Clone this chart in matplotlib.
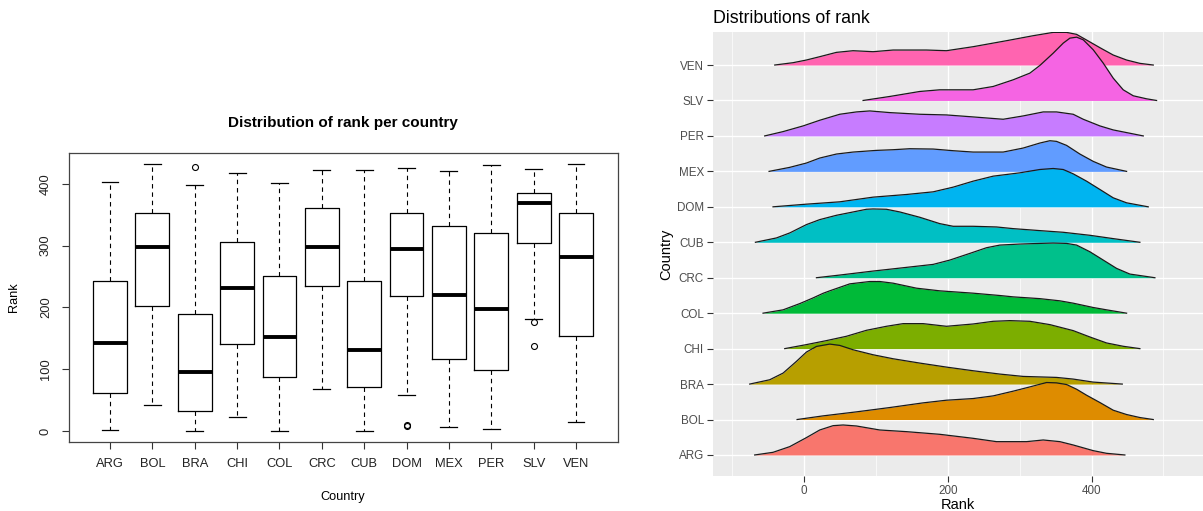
import numpy as np
import matplotlib
matplotlib.use("Agg")
import matplotlib.pyplot as plt

plt.rcParams['font.family'] = ['Liberation Sans', 'DejaVu Sans']

W, H = 1203, 511

countries = ['ARG', 'BOL', 'BRA', 'CHI', 'COL', 'CRC', 'CUB', 'DOM', 'MEX', 'PER', 'SLV', 'VEN']

# boxplot stats
whislo = [1, 42, 0, 23, 0, 68, 0, 59, 7, 4, 181, 15]
q1 = [61, 203, 32, 140, 87, 235, 72, 218, 117, 99, 304, 153]
med = [142, 298, 95, 231, 152, 297, 131, 294, 220, 197, 369, 282]
q3 = [243, 352, 189, 306, 250, 360, 243, 352, 331, 320, 385, 352]
whishi = [403, 432, 398, 418, 401, 422, 422, 425, 421, 430, 424, 432]
outliers = [[], [], [427], [], [], [], [], [8, 10], [], [], [177, 137], []]

# ridge outlines (rank, height in rows)
ridge_x = {
    'ARG': [-68.7, -43.2, -20, 3.2, 21.8, 40.4, 54.3, 72.8, 105.3, 142.4, 188.8, 235.2, 267.7, 309.5, 332.7, 355.9, 374.4, 402.3, 420.8, 446.3],
    'BOL': [-9.7, 26.4, 72.8, 119.2, 165.6, 198.1, 235.2, 263.1, 290.9, 314.1, 337.3, 351.2, 365.2, 379.1, 393, 411.6, 430.1, 448.7, 467.2, 485.8],
    'BRA': [-75.6, -47.8, -29.2, -10.7, 3.2, 17.2, 35.7, 49.6, 68.2, 96, 123.9, 161, 198.1, 235.2, 272.4, 304.8, 351.2, 374.4, 402.3, 442.7],
    'CHI': [-26.9, 3.2, 31.1, 58.9, 86.8, 114.6, 137.8, 165.6, 198.1, 235.2, 263.1, 286.3, 314.1, 342, 374.4, 397.6, 420.8, 444, 467.2],
    'COL': [-57.1, -29.2, -6, 12.5, 26.4, 35.7, 63.6, 91.4, 105.3, 123.9, 156.4, 188.8, 235.2, 272.4, 290.9, 328, 355.9, 374.4, 402.3, 420.8, 448.7],
    'CRC': [17.2, 49.6, 96, 142.4, 179.6, 202.8, 230.6, 253.8, 272.4, 300.2, 328, 346.6, 365.2, 379.1, 397.6, 416.2, 434.8, 453.3, 488.1],
    'CUB': [-67.7, -38.5, -20, 3.2, 21.8, 45, 68.2, 86.8, 96, 114.6, 133.2, 161, 188.8, 207.4, 235.2, 267.7, 290.9, 328, 360.5, 397.6, 430.1, 467.2],
    'DOM': [-43.2, 3.2, 49.6, 96, 142.4, 179.6, 207.4, 235.2, 263.1, 300.2, 328, 346.6, 360.5, 374.4, 393, 411.6, 430.1, 448.7, 478.8],
    'MEX': [-48.7, -20, 3.2, 21.8, 45, 68.2, 100.7, 123.9, 147.1, 179.6, 207.4, 235.2, 277, 304.8, 328, 342, 351.2, 365.2, 383.7, 402.3, 420.8, 448.7],
    'PER': [-54.8, -29.2, -1.4, 21.8, 49.6, 72.8, 91.4, 119.2, 161, 198.1, 235.2, 277, 304.8, 332.7, 351.2, 374.4, 388.4, 411.6, 430.1, 448.7, 471.9],
    'SLV': [82.1, 119.2, 161, 188.8, 235.2, 263.1, 290.9, 314.1, 328, 346.6, 360.5, 369.8, 379.1, 388.4, 402.3, 416.2, 430.1, 444, 458, 476.5, 490.4],
    'VEN': [-40.8, -15.3, 3.2, 21.8, 45, 68.2, 96, 123.9, 170.3, 198.1, 235.2, 281.6, 318.8, 346.6, 365.2, 379.1, 393, 411.6, 430.1, 448.7, 467.2, 485.8],
}
ridge_h = {
    'ARG': [0, .075, .235, .489, .705, .827, .846, .818, .705, .658, .583, .470, .376, .376, .423, .376, .282, .122, .047, 0],
    'BOL': [0, .103, .216, .338, .470, .545, .592, .667, .80, .92, 1.044, 1.034, .987, .855, .686, .479, .263, .141, .056, 0],
    'BRA': [0, .122, .310, .639, .902, 1.062, 1.128, 1.091, .968, .827, .714, .592, .479, .376, .282, .216, .188, .141, .056, 0],
    'CHI': [0, .113, .226, .348, .517, .630, .705, .705, .630, .695, .771, .790, .771, .677, .508, .329, .160, .066, 0],
    'COL': [0, .094, .27, .43, .56, .63, .827, .893, .893, .846, .705, .630, .564, .498, .46, .41, .348, .282, .160, .094, 0],
    'CRC': [0, .075, .188, .292, .376, .498, .686, .846, .921, .950, .968, .978, .968, .921, .733, .498, .263, .103, 0],
    'CUB': [0, .122, .263, .498, .639, .761, .855, .931, .940, .931, .855, .705, .526, .451, .451, .432, .385, .329, .282, .197, .103, 0],
    'DOM': [0, .075, .141, .273, .348, .423, .555, .724, .865, .959, 1.053, 1.081, 1.053, .931, .724, .489, .254, .113, 0],
    'MEX': [0, .113, .235, .376, .489, .545, .592, .611, .639, .630, .583, .545, .545, .658, .799, .865, .846, .733, .489, .282, .122, 0],
    'PER': [0, .122, .282, .442, .611, .677, .705, .658, .611, .592, .536, .47, .564, .677, .677, .611, .47, .282, .169, .094, 0],
    'SLV': [0, .113, .254, .301, .301, .395, .583, .771, .987, 1.335, 1.617, 1.758, 1.786, 1.711, 1.429, 1.053, .630, .301, .132, .047, 0],
    'VEN': [0, .066, .141, .235, .357, .404, .376, .423, .423, .404, .517, .686, .827, .921, .921, .865, .705, .489, .282, .141, .047, 0],
}
ridge_colors = ['#F8766D', '#DE8C00', '#B79F00', '#7CAE00', '#00BA38', '#00C08B',
                '#00BFC4', '#00B4F0', '#619CFF', '#C77CFF', '#F564E3', '#FF64B0']

fig = plt.figure(figsize=(W / 100, H / 100), dpi=100)

# ---- left: base R style boxplot
ax1 = fig.add_axes([68.5 / W, 1 - 441.7 / H, 549 / W, 288.4 / H])
stats = []
for i in range(len(countries)):
    stats.append(dict(whislo=whislo[i], q1=q1[i], med=med[i], q3=q3[i],
                      whishi=whishi[i], fliers=outliers[i]))
pos = np.arange(1, len(countries) + 1)
ax1.bxp(stats, positions=pos, widths=0.8, capwidths=0.4, showfliers=True,
        boxprops=dict(color='black', lw=0.9),
        whiskerprops=dict(color='black', lw=0.8, linestyle=(0, (4, 3.5))),
        capprops=dict(color='black', lw=0.9),
        medianprops=dict(color='black', lw=2.8, solid_capstyle='butt'),
        flierprops=dict(marker='o', mfc='none', mec='black', ms=4.3, mew=0.8))
ax1.set_xlim(0.02, 12.98)
ax1.set_ylim(-17.3, 449.3)
ax1.set_xticks(pos)
ax1.set_xticklabels(countries)
ax1.set_yticks([0, 100, 200, 300, 400])
ax1.set_yticklabels(['0', '100', '200', '300', '400'], rotation=90, va='center')
ax1.tick_params(length=5, width=0.8, pad=7, labelsize=9.3, color='#333333',
                labelcolor='#222222')
for s in ax1.spines.values():
    s.set_color('#444444')
    s.set_linewidth(0.9)
fig.text(343 / W, 1 - 122.7 / H, 'Distribution of rank per country',
         ha='center', va='center', fontsize=11, fontweight='bold')
fig.text(343 / W, 1 - 497 / H, 'Country', ha='center', va='center', fontsize=9.2)
fig.text(14 / W, 1 - 297 / H, 'Rank', ha='center', va='center', fontsize=9.2, rotation=90)

# ---- right: ggridges style density ridges
ax2 = fig.add_axes([712.8 / W, 1 - 476 / H, 490.2 / W, 444.3 / H])
ax2.set_facecolor('#EBEBEB')
ax2.set_xlim(-127, 555)
ax2.set_ylim(0.407, 12.94)
for s in ax2.spines.values():
    s.set_visible(False)
for v in [-100, 100, 300, 500]:
    ax2.axvline(v, color='white', lw=0.5, zorder=0)
for v in [0, 200, 400]:
    ax2.axvline(v, color='white', lw=1.0, zorder=0)
for k in range(len(countries)):
    ax2.axhline(k + 1, color='white', lw=1.0, zorder=0)

n = len(countries)
for i, c in enumerate(countries):
    base = i + 1
    xs = np.array(ridge_x[c])
    ys = base + np.array(ridge_h[c])
    z = 2 + 2 * (n - i)
    ax2.fill_between(xs, base, ys, color=ridge_colors[i], lw=0, zorder=z)
    ax2.plot(xs, ys, color='#1a1a1a', lw=0.9, zorder=z + 1)

ax2.set_xticks([0, 200, 400])
ax2.set_yticks(np.arange(1, n + 1))
ax2.set_yticklabels(countries)
ax2.tick_params(length=4, width=0.8, color='#333333', labelcolor='#4D4D4D',
                labelsize=8.4, pad=2.5)
fig.text(712.8 / W, 1 - 23 / H, 'Distributions of rank', ha='left', va='baseline',
         fontsize=12.8)
fig.text(666 / W, 1 - 254 / H, 'Country', ha='center', va='center', fontsize=10.5,
         rotation=90)
fig.text(958 / W, 1 - 508.5 / H, 'Rank', ha='center', va='baseline', fontsize=10.5)

fig.savefig('out.png', dpi=100)
